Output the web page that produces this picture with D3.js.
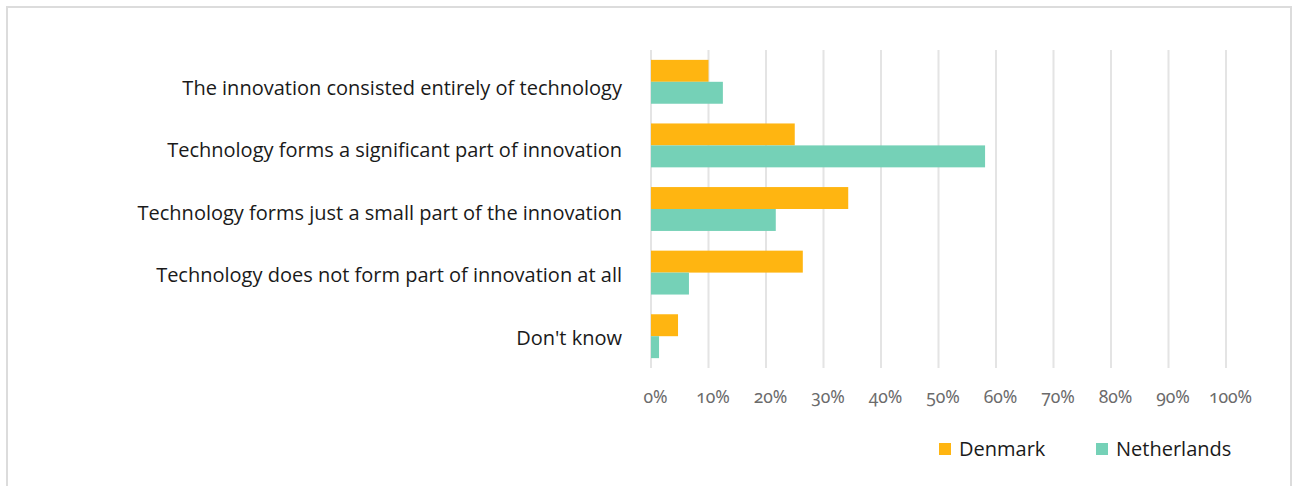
<!DOCTYPE html>
<html>
<head>
<meta charset="utf-8">
<script src="https://cdn.jsdelivr.net/npm/d3@7"></script>
<style>
  html, body { margin: 0; padding: 0; background: #fff; }
  svg { display: block; }
  .cat text { font-family: "Open Sans", sans-serif; font-size: 20px; fill: #1a1a1a; }
  .xax text { font-family: "Noto Sans", sans-serif; font-size: 17.5px; fill: #6b6b6b; font-variant-numeric: oldstyle-nums; }
  .legend text { font-family: "Open Sans", sans-serif; font-size: 20px; fill: #1a1a1a; }
</style>
</head>
<body>
<svg id="chart" width="1293" height="486"></svg>
<script>
// Survey answers: role of technology in the innovation
const categories = [
  "The innovation consisted entirely of technology",
  "Technology forms a significant part of innovation",
  "Technology forms just a small part of the innovation",
  "Technology does not form part of innovation at all",
  "Don't know"
];
const seriesNames = ["Denmark", "Netherlands"];
const denmark     = [10.0, 25.0, 34.3, 26.4, 4.7];
const netherlands = [12.5, 58.1, 21.7, 6.6, 1.4];
const xTicks = [0, 10, 20, 30, 40, 50, 60, 70, 80, 90, 100];
const colors = ["#FFB511", "#75D1B7"];

const rows = categories.map((c, i) => ({ category: c, values: [denmark[i], netherlands[i]] }));

const svg = d3.select("#chart");

// outer frame
svg.append("rect")
  .attr("x", 7).attr("y", 7).attr("width", 1284).attr("height", 500)
  .attr("fill", "none").attr("stroke", "#dcdcdc").attr("stroke-width", 2);

const x = d3.scaleLinear().domain([0, 100]).range([651, 1226]);
const y = d3.scaleBand().domain(categories).range([50, 368]).paddingInner(0.31).paddingOuter(0.155);
const ySub = d3.scaleBand().domain(seriesNames).range([0, y.bandwidth()]);
const color = d3.scaleOrdinal().domain(seriesNames).range(colors);
// category labels sit on their own slightly tighter spacing
const yLabel = d3.scalePoint().domain(categories).range([87, 337]);

// vertical gridlines
svg.append("g").selectAll("line").data(xTicks).join("line")
  .attr("x1", d => x(d)).attr("x2", d => x(d))
  .attr("y1", 50).attr("y2", 368)
  .attr("stroke", "#e4e4e4").attr("stroke-width", 2);

// bars
const groups = svg.append("g").selectAll("g").data(rows).join("g")
  .attr("transform", d => `translate(0,${y(d.category)})`);
groups.selectAll("rect")
  .data(d => d.values.map((v, k) => ({ key: seriesNames[k], value: v })))
  .join("rect")
  .attr("x", x(0))
  .attr("y", d => ySub(d.key))
  .attr("width", d => x(d.value) - x(0))
  .attr("height", ySub.bandwidth())
  .attr("fill", d => color(d.key));

// category axis
const yAxis = svg.append("g").attr("class", "cat")
  .attr("transform", `translate(${x(0)},0)`)
  .call(d3.axisLeft(yLabel).tickSize(0).tickPadding(29));
yAxis.select(".domain").remove();
yAxis.selectAll("text").attr("dy", "0.35em");

// value axis
const xAxis = svg.append("g").attr("class", "xax")
  .attr("transform", `translate(4,368)`)
  .call(d3.axisBottom(x).tickValues(xTicks).tickFormat(d => d + "%").tickSize(0).tickPadding(23));
xAxis.select(".domain").remove();

// legend
const legend = svg.append("g").attr("class", "legend");
const legendX = [939, 1096];
seriesNames.forEach((name, k) => {
  const g = legend.append("g").attr("transform", `translate(${legendX[k]},443)`);
  g.append("rect").attr("width", 12).attr("height", 12).attr("fill", color(name));
  g.append("text").attr("x", 20).attr("y", 6).attr("dy", "0.35em").text(name);
});
</script>
</body>
</html>
